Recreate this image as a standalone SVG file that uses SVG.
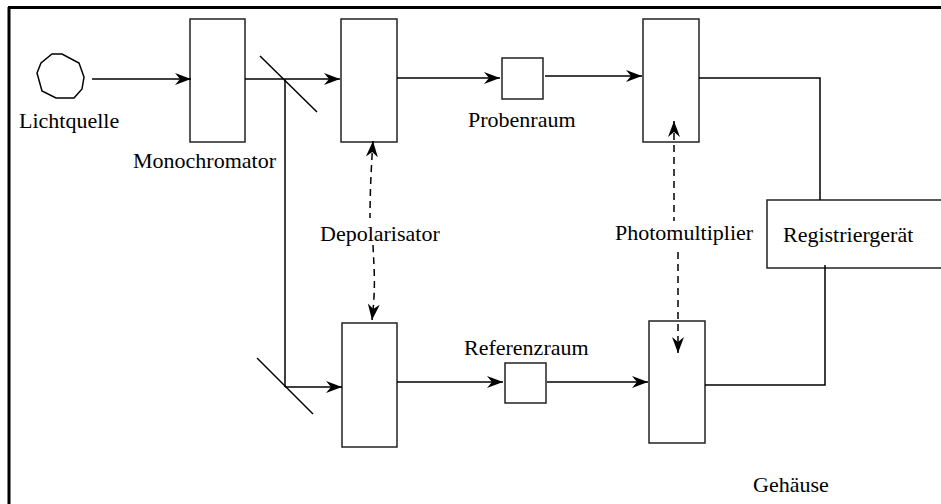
<svg xmlns="http://www.w3.org/2000/svg" width="941" height="504" viewBox="0 0 941 504">
<defs>
<style>
.box{fill:#fff;stroke:#222;stroke-width:1.5}
.ln{fill:none;stroke:#000;stroke-width:1.5}
.arr{fill:none;stroke:#000;stroke-width:1.5;marker-end:url(#ah)}
.lbl{font-family:"Liberation Serif","Times New Roman",serif;font-size:22px;fill:#000}
</style>
<marker id="ah" markerUnits="userSpaceOnUse" markerWidth="17" markerHeight="13" viewBox="-16 -6.5 17 13" refX="0" refY="0" orient="auto">
<path d="M0,0 L-16,-6 L-11,0 L-16,6 Z" fill="#000"/>
</marker>
<marker id="ahs" markerUnits="userSpaceOnUse" markerWidth="17" markerHeight="13" viewBox="-16 -6.5 17 13" refX="0" refY="0" orient="auto-start-reverse">
<path d="M0,0 L-16,-6 L-11,0 L-16,6 Z" fill="#000"/>
</marker>
</defs>
<rect width="941" height="504" fill="#fff"/>
<g id="frame">
<path d="M8,7.5 H941" stroke="#000" stroke-width="3" fill="none"/>
<path d="M9,7 V504" stroke="#000" stroke-width="3" fill="none"/>
</g>
<g id="lichtquelle">
<polygon points="52,54 62,54 79,63 84,77 82,89 74,98 56,98 42,91 37,73 41,63" fill="#fff" stroke="#000" stroke-width="1.5"/>
<text class="lbl" x="19" y="128">Lichtquelle</text>
</g>
<g id="monochromator">
<rect class="box" x="190" y="19" width="55" height="123"/>
<text class="lbl" x="133" y="168">Monochromator</text>
</g>
<g id="depol-oben">
<rect class="box" x="341" y="19" width="56" height="123"/>
</g>
<g id="depolarisator">
<text class="lbl" x="320" y="241">Depolarisator</text>
</g>
<g id="depol-unten">
<rect class="box" x="342" y="323" width="55" height="124"/>
</g>
<g id="probenraum">
<rect class="box" x="502" y="58" width="41" height="41"/>
<text class="lbl" x="468" y="127">Probenraum</text>
</g>
<g id="referenzraum">
<rect class="box" x="505" y="363" width="41" height="40"/>
<text class="lbl" x="464" y="355">Referenzraum</text>
</g>
<g id="pm-oben">
<rect class="box" x="643" y="19" width="56" height="123"/>
</g>
<g id="photomultiplier">
<text class="lbl" x="615" y="240">Photomultiplier</text>
</g>
<g id="pm-unten">
<rect class="box" x="649" y="321" width="56" height="122"/>
</g>
<g id="registriergeraet">
<rect class="box" x="767" y="200" width="180" height="68"/>
<text class="lbl" x="783" y="242">Registriergerät</text>
</g>
<g id="gehaeuse">
<text class="lbl" x="753" y="492">Gehäuse</text>
</g>
<g id="connectors">
<path class="arr" d="M92,79 H191"/>
<path class="arr" d="M245,79 H340"/>
<path class="ln" d="M260,56 L317,112"/>
<path class="ln" d="M285,79 V387"/>
<path class="ln" d="M257,358 L313,414"/>
<path class="arr" d="M285,387 H342"/>
<path class="arr" d="M397,78 H500"/>
<path class="arr" d="M545,76 H642"/>
<path class="arr" d="M397,382 H503"/>
<path class="arr" d="M547,382 H648"/>
<path class="ln" d="M699,78 H820 V200"/>
<path class="ln" d="M705,385 H825 V265"/>
<path style="fill:none;stroke:#000;stroke-width:1.5;stroke-dasharray:7,5;marker-start:url(#ahs)" d="M373,141 C371,170 370,195 370,218"/>
<path style="fill:none;stroke:#000;stroke-width:1.5;stroke-dasharray:7,5;marker-end:url(#ah)" d="M373,245 C374,270 376,285 372,320"/>
<path style="fill:none;stroke:#000;stroke-width:1.5;stroke-dasharray:7,5;marker-start:url(#ahs)" d="M674,121 V221"/>
<path style="fill:none;stroke:#000;stroke-width:1.5;stroke-dasharray:7,5;marker-end:url(#ah)" d="M678,252 V353"/>
</g>
</svg>
